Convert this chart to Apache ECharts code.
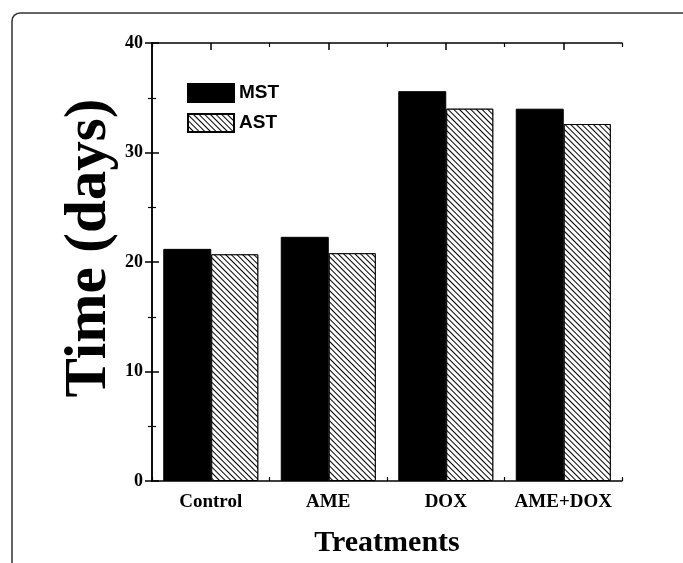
<!DOCTYPE html>
<html>
<head>
<meta charset="utf-8">
<script src="https://cdn.jsdelivr.net/npm/echarts@6/dist/echarts.min.js"></script>
<style>
  html, body { margin: 0; padding: 0; background: #fff; }
  #chart { width: 683px; height: 563px; }
</style>
</head>
<body>
<div id="chart"></div>
<script>
// 数据
var categories = ['Control', 'AME', 'DOX', 'AME+DOX'];
var mstValues = [21.2, 22.3, 35.6, 34];
var astValues = [20.7, 20.8, 34, 32.6];
var yTicks = [0, 10, 20, 30, 40];

var serif = 'Liberation Serif';
var myChart = echarts.init(document.getElementById('chart'));

// 斜线填充 "\\\\"
var hatch = {
    symbol: 'rect',
    symbolSize: 1,
    color: '#000',
    backgroundColor: '#fff',
    dashArrayX: [1, 0],
    dashArrayY: [1, 2.6],
    rotation: Math.PI / 4
};

// 刻度轴：分隔处短刻度，类目中心长刻度
function tickAxis(pos) {
    return {
        type: 'value', min: 0, max: categories.length, interval: 1, position: pos,
        axisLine: { show: true, lineStyle: { color: '#000', width: 1.5 } },
        splitLine: { show: false },
        axisTick: { show: true, inside: true, length: 4, lineStyle: { color: '#000', width: 1.2 } },
        minorTick: { show: true, splitNumber: 2, length: 7, lineStyle: { color: '#000', width: 1.5 } },
        axisLabel: { show: false }
    };
}

var option = {
    backgroundColor: '#fff',
    animation: false,
    grid: { left: 152, right: 61, top: 43, bottom: 79 },
    legend: {
        left: 182, top: 78,
        orient: 'vertical',
        icon: 'rect',
        itemWidth: 46, itemHeight: 18, itemGap: 10,
        textStyle: { fontFamily: 'Liberation Sans', fontWeight: 'bold', fontSize: 19, color: '#000' },
        data: ['MST', 'AST']
    },
    xAxis: [
        {   // 类目标签
            type: 'category', data: categories, position: 'bottom',
            axisLine: { show: false },
            axisTick: { show: false },
            axisLabel: { interval: 0, hideOverlap: false, fontFamily: serif, fontWeight: 'bold', fontSize: 19, color: '#000', margin: 12 },
            name: 'Treatments', nameLocation: 'middle', nameGap: 47, nameMoveOverlap: false,
            nameTextStyle: { fontFamily: serif, fontWeight: 'bold', fontSize: 30, color: '#000' }
        },
        tickAxis('bottom'),
        tickAxis('top')
    ],
    yAxis: [
        {
            type: 'value', min: yTicks[0], max: yTicks[yTicks.length - 1], interval: 10, position: 'left',
            axisLine: { show: true, lineStyle: { color: '#000', width: 1.5 } },
            axisTick: { show: true, inside: true, length: 7, lineStyle: { color: '#000', width: 1.5 } },
            minorTick: { show: true, splitNumber: 2, length: 4, lineStyle: { color: '#000', width: 1.2 } },
            splitLine: { show: false },
            axisLabel: { fontFamily: serif, fontWeight: 'bold', fontSize: 18, color: '#000', margin: 9 },
            name: 'Time (days)', nameLocation: 'middle', nameGap: 33, nameMoveOverlap: false,
            nameTextStyle: { fontFamily: serif, fontWeight: 'bold', fontSize: 59, color: '#000', padding: [0, 0, 0, 28] }
        },
        {
            type: 'value', min: yTicks[0], max: yTicks[yTicks.length - 1], interval: 10, position: 'right',
            axisLine: { show: true, lineStyle: { color: '#000', width: 1.5 } },
            axisTick: { show: true, inside: true, length: 7, lineStyle: { color: '#000', width: 1.5 } },
            minorTick: { show: true, splitNumber: 2, length: 4, lineStyle: { color: '#000', width: 1.2 } },
            splitLine: { show: false },
            axisLabel: { show: false }
        }
    ],
    series: [
        {
            name: 'MST', type: 'bar', data: mstValues,
            barWidth: 48, barGap: '0%',
            itemStyle: { color: '#000', borderColor: '#000', borderWidth: 1 }
        },
        {
            name: 'AST', type: 'bar', data: astValues,
            barWidth: 47, barGap: '0%',
            itemStyle: { color: '#fff', borderColor: '#000', borderWidth: 1, decal: hatch }
        }
    ],
    graphic: [
        {   // 外框
            type: 'polyline',
            shape: { points: [[12, 563], [12, 21], [12.6, 17.9], [14.3, 15.3], [16.9, 13.6], [20, 13], [683, 13]] },
            style: { fill: 'none', stroke: '#333', lineWidth: 1.5 }
        }
    ]
};

myChart.setOption(option);
</script>
</body>
</html>
